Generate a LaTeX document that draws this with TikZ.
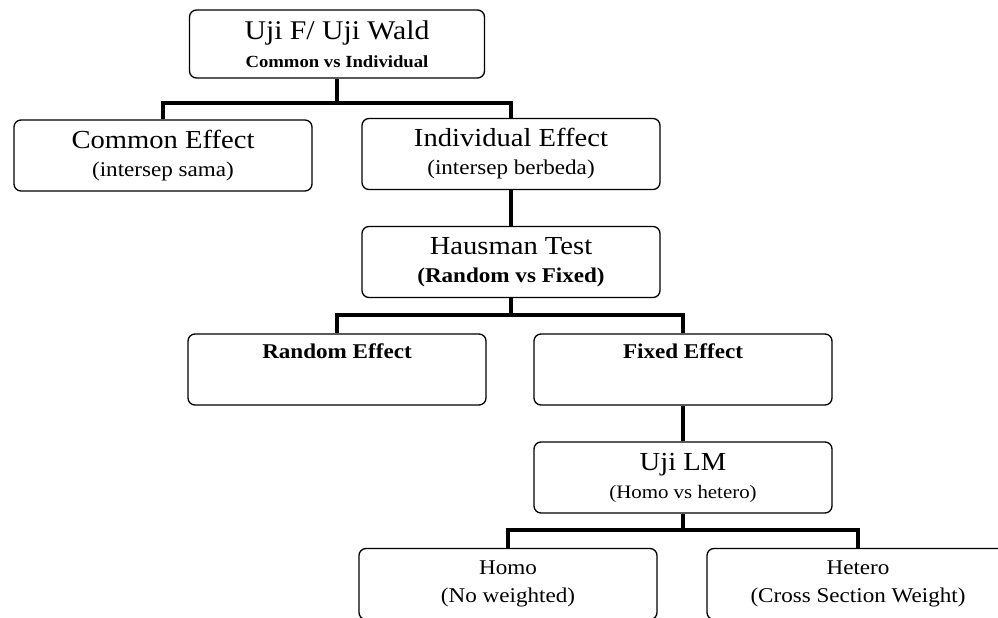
\documentclass[tikz,border=0pt]{standalone}
\usepackage{fontspec}
\setmainfont{Liberation Serif}[FakeStretch=1.1]
\newcommand{\hurufbesar}{\fontsize{26}{28}\selectfont}
\newcommand{\hurufkecil}{\fontsize{21}{28}\selectfont}

\begin{document}
\begin{tikzpicture}[x=1pt, y=-1pt,
    kotak/.style={draw=black, line width=1.3pt, rounded corners=7pt, minimum width=298pt, minimum height=71pt, align=center, inner sep=0pt, font=\hurufbesar},
    garis/.style={line width=3.2pt, black}]
  \useasboundingbox (0,0) rectangle (998,618);
  \clip (0,0) rectangle (998,618);

  % Uji F
  \node[kotak, minimum width=295pt, minimum height=68pt] (ujif) at (337,44) {\fontsize{27}{26}\selectfont Uji F/ Uji Wald\\{\fontsize{17}{26}\selectfont\bfseries Common vs Individual}};
  \node[kotak] (common) at (163,155.5) {Common Effect\\{\hurufkecil (intersep sama)}};
  \node[kotak] (individu) at (511,154) {Individual Effect\\{\hurufkecil (intersep berbeda)}};

  % Hausman
  \node[kotak] (hausman) at (511,262) {Hausman Test\\{\hurufkecil\bfseries (Random vs Fixed)}};
  \node[kotak, font=\hurufkecil\bfseries] (random) at (337,369.5) {Random Effect\\ \strut};
  \node[kotak, font=\hurufkecil\bfseries] (fixed) at (683,369.5) {Fixed Effect\\ \strut};

  % Uji LM
  \node[kotak] (ujilm) at (683,477.5) {Uji LM\\{\fontsize{19}{28}\selectfont (Homo vs hetero)}};
  \node[kotak, font=\hurufkecil] (homo) at (508,584) {Homo\\(No weighted)};
  \node[kotak, font=\hurufkecil, minimum width=302pt] (hetero) at (858,584) {Hetero\\(Cross Section Weight)};

  % garis penghubung
  \coordinate (cabang1) at (337,103);
  \coordinate (cabang2) at (511,315);
  \coordinate (cabang3) at (683,530);
  \draw[garis] (ujif.south) -- (cabang1);
  \draw[garis] (common.north) |- (cabang1) -| (individu.north);
  \draw[garis] (individu.south) -- (hausman.north);
  \draw[garis] (hausman.south) -- (cabang2);
  \draw[garis] (random.north) |- (cabang2) -| (fixed.north);
  \draw[garis] (fixed.south) -- (ujilm.north);
  \draw[garis] (ujilm.south) -- (cabang3);
  \draw[garis] (homo.north) |- (cabang3) -| (hetero.north);
\end{tikzpicture}
\end{document}
